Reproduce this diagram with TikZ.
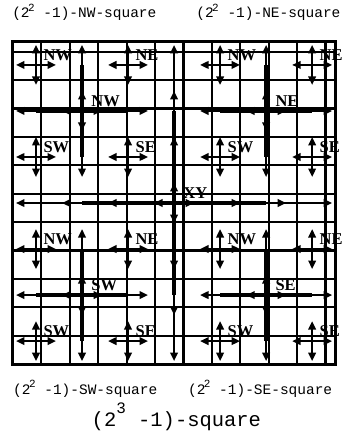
\documentclass[tikz,border=0pt]{standalone}
\usepackage{fontspec}
\setmainfont{Liberation Serif}
\setmonofont{Liberation Mono}
\usetikzlibrary{arrows.meta,calc}

\begin{document}
\begin{tikzpicture}[->,>={Triangle[length=8.5pt,width=7.5pt]},x=46.1pt,y=46.1pt]
	\tikzstyle{grid line}=[-,line width=2.2pt]
	\tikzstyle{frame}=[-,line width=3pt]
	\tikzstyle{arm}=[line width=2.1pt]
	\tikzstyle{core}=[-,line width=4.2pt]
	\tikzstyle{quad}=[anchor=base west,inner sep=0pt,font=\bfseries\fontsize{16.5}{16.5}\selectfont]
	\tikzstyle{caption}=[anchor=base west,inner sep=0pt,font=\ttfamily\fontsize{14.5}{14.5}\selectfont]
	\useasboundingbox (-0.282,-1.497) rectangle (7.217,7.911);
	\draw[grid line] (0,0) grid (7,7);
	\draw[frame] (0,0) rectangle (7,7);
	\foreach \sq/\ox/\oy in {NW/0/4,NE/4/4,SW/0/0,SE/4/0}{
		\foreach \q/\dx/\dy in {NW/0.5/2.5,NE/2.5/2.5,SW/0.5/0.5,SE/2.5/0.5}{
			\coordinate (\sq-\q) at (\ox+\dx,\oy+\dy);
			\foreach \u/\v in {1/0,-1/0,0/1,0/-1}
				\draw[arm] (\sq-\q) -- ++({0.435*\u},{0.435*\v});
			\node[quad] (\sq-\q-lbl) at ($(\sq-\q)+(0.16,0.1)$) {\q};
		}
		\coordinate (\sq) at (\ox+1.5,\oy+1.5);
		\draw[core] ($(\sq)-(1,0)$) -- ($(\sq)+(1,0)$);
		\draw[core] ($(\sq)-(0,1)$) -- ($(\sq)+(0,1)$);
		\foreach \d in {0.435,1.435}
			\foreach \u/\v in {1/0,-1/0,0/1,0/-1}
				\draw[arm] (\sq) -- ++({\d*\u},{\d*\v});
		\node[quad] (\sq-lbl) at ($(\sq)+(0.2,0.1)$) {\sq};
	}
	\coordinate (XY) at (3.5,3.5);
	\draw[core] ($(XY)-(2,0)$) -- ($(XY)+(2,0)$);
	\draw[core] ($(XY)-(0,2)$) -- ($(XY)+(0,2)$);
	\foreach \d in {0.435,1.435,2.435,3.435}
		\foreach \u/\v in {1/0,-1/0,0/1,0/-1}
			\draw[arm] (XY) -- ++({\d*\u},{\d*\v});
	\node[quad] (XY-lbl) at ($(XY)+(0.2,0.1)$) {XY};
	\node[caption] (NW-cap) at (-0.02,7.52) {(2\kern-1.5pt\raisebox{0.45em}{\fontsize{11}{11}\selectfont 2} -1)-NW-square};
	\node[caption] (NE-cap) at (3.98,7.52) {(2\kern-1.5pt\raisebox{0.45em}{\fontsize{11}{11}\selectfont 2} -1)-NE-square};
	\node[caption] (SW-cap) at (0,-0.65) {(2\kern-1.5pt\raisebox{0.45em}{\fontsize{11}{11}\selectfont 2} -1)-SW-square};
	\node[caption] (SE-cap) at (3.8,-0.65) {(2\kern-1.5pt\raisebox{0.45em}{\fontsize{11}{11}\selectfont 2} -1)-SE-square};
	\node[caption,anchor=base,font=\ttfamily\fontsize{20.5}{20.5}\selectfont] (main-cap) at (3.55,-1.345) {(2\raisebox{0.6em}{\fontsize{16}{16}\selectfont 3} -1)-square};
\end{tikzpicture}
\end{document}
